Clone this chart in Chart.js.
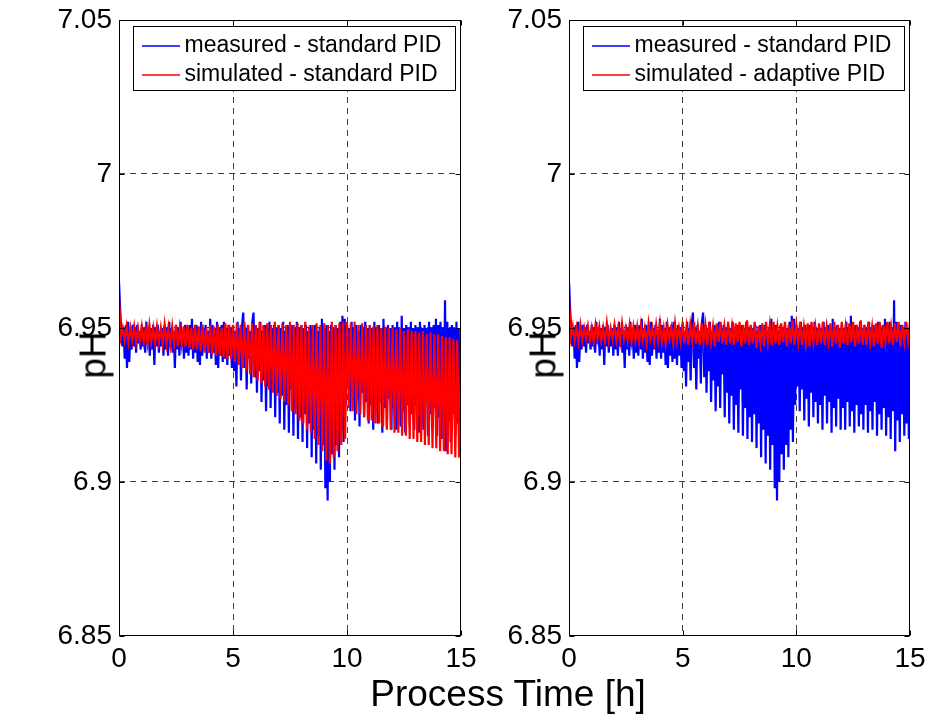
<!DOCTYPE html>
<html>
<head>
<meta charset="utf-8">
<script src="https://cdn.jsdelivr.net/npm/chart.js@4.4.1/dist/chart.umd.min.js"></script>
<style>
  html, body { margin: 0; padding: 0; background: #ffffff; }
  #wrap { position: relative; width: 930px; height: 718px; overflow: hidden;
          font-family: "Liberation Sans", Arial, Helvetica, sans-serif; color: #000; }
  #wrap canvas { position: absolute; left: 0; top: 0; }
  .ytitle { position: absolute; font-size: 37px; line-height: 37px; white-space: nowrap;
            transform: translate(-50%, -50%) rotate(-90deg); }
  #xtitle { position: absolute; left: 508px; top: 675px; font-size: 37px; line-height: 37px;
            white-space: nowrap; transform: translateX(-50%); }
</style>
</head>
<body>
<div id="wrap">
  <canvas id="left" width="930" height="718"></canvas>
  <canvas id="right" width="930" height="718"></canvas>
  <div class="ytitle" style="left:93px; top:355px;">pH</div>
  <div class="ytitle" style="left:543px; top:355px;">pH</div>
  <div id="xtitle">Process Time [h]</div>
</div>
<script>
// ---------------- data ----------------
// sampling interval of each record, in hours
const measuredStepH = 0.05;     // 3 min
const simulatedStepH = 1 / 12;  // 5 min

// measured pH, standard PID (same record shown in both panels)
const pHMeasuredStd = [
  6.965, 6.956, 6.949, 6.944, 6.950, 6.940, 6.951, 6.937, 6.952, 6.939, 6.949, 6.943, 6.951, 6.944, 6.950, 6.942, 6.951, 6.945, 6.949, 6.943,
  6.951, 6.944, 6.950, 6.942, 6.952, 6.945, 6.949, 6.941, 6.950, 6.943, 6.951, 6.938, 6.950, 6.944, 6.951, 6.942, 6.949, 6.944, 6.950, 6.941,
  6.951, 6.943, 6.950, 6.941, 6.952, 6.944, 6.950, 6.942, 6.949, 6.937, 6.951, 6.943, 6.950, 6.941, 6.952, 6.944, 6.949, 6.940, 6.951, 6.942,
  6.950, 6.941, 6.951, 6.943, 6.953, 6.940, 6.950, 6.942, 6.951, 6.939, 6.950, 6.938, 6.952, 6.941, 6.950, 6.943, 6.951, 6.940, 6.949, 6.942,
  6.953, 6.940, 6.951, 6.942, 6.950, 6.938, 6.952, 6.937, 6.950, 6.941, 6.951, 6.939, 6.952, 6.940, 6.950, 6.938, 6.951, 6.941, 6.950, 6.937,
  6.951, 6.936, 6.949, 6.931, 6.952, 6.939, 6.950, 6.933, 6.951, 6.955, 6.937, 6.950, 6.930, 6.951, 6.940, 6.949, 6.932, 6.952, 6.955, 6.934,
  6.951, 6.929, 6.950, 6.936, 6.952, 6.926, 6.949, 6.933, 6.951, 6.923, 6.950, 6.931, 6.952, 6.924, 6.950, 6.935, 6.951, 6.921, 6.950, 6.929,
  6.951, 6.919, 6.950, 6.928, 6.952, 6.917, 6.949, 6.925, 6.951, 6.916, 6.950, 6.930, 6.951, 6.915, 6.950, 6.924, 6.952, 6.914, 6.950, 6.921,
  6.951, 6.913, 6.950, 6.922, 6.951, 6.911, 6.949, 6.919, 6.951, 6.908, 6.950, 6.917, 6.951, 6.906, 6.949, 6.915, 6.950, 6.904, 6.953, 6.912,
  6.950, 6.898, 6.951, 6.894, 6.949, 6.900, 6.951, 6.909, 6.950, 6.904, 6.951, 6.912, 6.950, 6.908, 6.952, 6.917, 6.954, 6.913, 6.953, 6.925,
  6.951, 6.931, 6.950, 6.923, 6.952, 6.930, 6.950, 6.920, 6.951, 6.927, 6.949, 6.918, 6.951, 6.929, 6.950, 6.921, 6.952, 6.926, 6.950, 6.919,
  6.951, 6.925, 6.950, 6.917, 6.952, 6.928, 6.950, 6.919, 6.951, 6.926, 6.950, 6.916, 6.953, 6.924, 6.950, 6.918, 6.951, 6.927, 6.950, 6.917,
  6.951, 6.924, 6.950, 6.917, 6.952, 6.926, 6.950, 6.918, 6.954, 6.923, 6.950, 6.916, 6.951, 6.925, 6.950, 6.918, 6.952, 6.922, 6.950, 6.917,
  6.951, 6.925, 6.950, 6.916, 6.952, 6.923, 6.950, 6.917, 6.951, 6.926, 6.950, 6.915, 6.952, 6.922, 6.950, 6.917, 6.951, 6.924, 6.953, 6.915,
  6.951, 6.921, 6.952, 6.914, 6.950, 6.923, 6.959, 6.910, 6.952, 6.920, 6.950, 6.913, 6.951, 6.922, 6.950, 6.915, 6.952, 6.919, 6.950, 6.914,
  6.922
];

// simulated pH, standard PID (left panel)
const pHSimulatedStd = [
  6.960, 6.947, 6.950, 6.946, 6.9505, 6.9455, 6.950, 6.946, 6.9505, 6.9455, 6.950, 6.946,
  6.9505, 6.9455, 6.950, 6.945, 6.951, 6.9455, 6.950, 6.945, 6.9505, 6.9455, 6.950, 6.945,
  6.951, 6.945, 6.950, 6.9445, 6.9505, 6.945, 6.951, 6.944, 6.950, 6.9445, 6.9505, 6.944,
  6.951, 6.9435, 6.950, 6.943, 6.951, 6.943, 6.9505, 6.9425, 6.951, 6.942, 6.950, 6.942,
  6.951, 6.9415, 6.9505, 6.941, 6.951, 6.941, 6.950, 6.9405, 6.9515, 6.940, 6.951, 6.940,
  6.951, 6.939, 6.9515, 6.938, 6.951, 6.937, 6.952, 6.936, 6.951, 6.935, 6.9515, 6.934,
  6.951, 6.933, 6.952, 6.932, 6.951, 6.931, 6.9515, 6.930, 6.951, 6.929, 6.952, 6.928,
  6.951, 6.927, 6.9515, 6.926, 6.951, 6.925, 6.952, 6.923, 6.951, 6.922, 6.9515, 6.920,
  6.951, 6.919, 6.952, 6.917, 6.9505, 6.916, 6.951, 6.914, 6.9515, 6.912, 6.951, 6.910,
  6.9515, 6.907, 6.951, 6.906, 6.952, 6.908, 6.951, 6.910, 6.9515, 6.912, 6.952, 6.914,
  6.952, 6.924, 6.9515, 6.923, 6.952, 6.922, 6.951, 6.922, 6.9515, 6.921, 6.951, 6.920,
  6.951, 6.920, 6.9505, 6.919, 6.951, 6.919, 6.950, 6.918, 6.9505, 6.917, 6.950, 6.917,
  6.950, 6.916, 6.9495, 6.916, 6.950, 6.915, 6.949, 6.915, 6.9495, 6.914, 6.949, 6.914,
  6.949, 6.913, 6.9485, 6.913, 6.949, 6.912, 6.948, 6.912, 6.9485, 6.911, 6.948, 6.911,
  6.948, 6.910, 6.9475, 6.910, 6.947, 6.909, 6.947, 6.909, 6.9465, 6.908, 6.946, 6.908,
  6.946
];

// simulated pH, adaptive PID (right panel)
const pHSimulatedAdaptive = [
  6.960, 6.947, 6.9505, 6.946, 6.950, 6.9455, 6.951, 6.946, 6.950, 6.9465, 6.9505, 6.946,
  6.950, 6.9455, 6.951, 6.9465, 6.9505, 6.946, 6.950, 6.9455, 6.9515, 6.946, 6.950, 6.9465,
  6.951, 6.946, 6.950, 6.9455, 6.9515, 6.9465, 6.950, 6.946, 6.951, 6.9455, 6.9505, 6.946,
  6.9505, 6.9455, 6.951, 6.946, 6.950, 6.945, 6.9515, 6.9465, 6.950, 6.9455, 6.951, 6.946,
  6.9515, 6.9455, 6.950, 6.945, 6.951, 6.9465, 6.950, 6.945, 6.9515, 6.946, 6.950, 6.9455,
  6.952, 6.945, 6.9505, 6.9445, 6.951, 6.946, 6.952, 6.945, 6.9505, 6.9445, 6.9515, 6.9455,
  6.951, 6.9445, 6.952, 6.9455, 6.9505, 6.944, 6.9515, 6.9455, 6.952, 6.945, 6.9505, 6.9445,
  6.952, 6.945, 6.9505, 6.9445, 6.9515, 6.9455, 6.952, 6.944, 6.951, 6.945, 6.9525, 6.9445,
  6.951, 6.945, 6.952, 6.9435, 6.9505, 6.945, 6.9515, 6.944, 6.952, 6.9455, 6.951, 6.9445,
  6.952, 6.945, 6.9505, 6.9445, 6.9515, 6.9455, 6.952, 6.944, 6.951, 6.945, 6.9525, 6.9445,
  6.951, 6.9455, 6.952, 6.9445, 6.9505, 6.945, 6.9515, 6.944, 6.952, 6.9455, 6.9505, 6.9445,
  6.9515, 6.945, 6.952, 6.9445, 6.9505, 6.9455, 6.9515, 6.944, 6.952, 6.945, 6.951, 6.9435,
  6.952, 6.945, 6.9505, 6.9445, 6.9515, 6.9455, 6.952, 6.944, 6.951, 6.945, 6.9525, 6.9445,
  6.951, 6.9445, 6.952, 6.9455, 6.9505, 6.944, 6.9515, 6.945, 6.952, 6.9435, 6.951, 6.9455,
  6.952, 6.945, 6.9505, 6.9445, 6.9515, 6.9455, 6.952, 6.944, 6.951, 6.9455, 6.952, 6.946,
  6.952
];

// axes
const xTicks = [0, 5, 10, 15];
const xTickLabels = ['0', '5', '10', '15'];
const yTicks = [6.85, 6.9, 6.95, 7.0, 7.05];
const yTickLabels = ['6.85', '6.9', '6.95', '7', '7.05'];

// legend texts
const legendLeft = ['measured - standard PID', 'simulated - standard PID'];
const legendRight = ['measured - standard PID', 'simulated - adaptive PID'];

// ---------------- rendering ----------------
const FONT = '"Liberation Sans", Arial, Helvetica, sans-serif';
Chart.defaults.font.family = FONT;
Chart.defaults.color = '#000';

const BLUE = '#0000ff';
const RED = '#ff0000';
const GRID = 'rgba(0,0,0,0.75)';

function toPoints(values, step) {
  return values.map((v, i) => ({ x: i * step, y: v }));
}

function lineSample(color) {
  const c = document.createElement('canvas');
  c.width = 38; c.height = 4;
  const g = c.getContext('2d');
  g.strokeStyle = color; g.lineWidth = 1.6;
  g.beginPath(); g.moveTo(0, 2); g.lineTo(38, 2); g.stroke();
  return c;
}

const framePlugin = {
  id: 'matlabFrame',
  afterLayout(chart) {
    const ca = chart.chartArea, lg = chart.legend;
    const box = { l: ca.left + 14, r: ca.right - 6, t: ca.top + 6, b: ca.top + 70 };
    chart.$legendBox = box;
    lg.left = box.l + 9; lg.top = box.t + 2.5;
    lg.right = box.r; lg.bottom = box.b + 12;
    lg.width = lg.right - lg.left; lg.height = lg.bottom - lg.top;
  },
  afterDraw(chart) {
    const ctx = chart.ctx, ca = chart.chartArea;
    const xs = chart.scales.x, ys = chart.scales.y;
    ctx.save();
    ctx.strokeStyle = '#000'; ctx.lineWidth = 1;
    const L = Math.round(ca.left) + 0.5, R = Math.round(ca.right) - 0.5;
    const T = Math.round(ca.top) + 0.5, B = Math.round(ca.bottom) - 0.5;
    ctx.strokeRect(L, T, R - L, B - T);
    ctx.beginPath();
    xTicks.forEach(v => {
      const px = Math.round(xs.getPixelForValue(v)) + 0.5;
      ctx.moveTo(px, B); ctx.lineTo(px, B - 5);
      ctx.moveTo(px, T); ctx.lineTo(px, T + 5);
    });
    yTicks.forEach(v => {
      const py = Math.round(ys.getPixelForValue(v)) + 0.5;
      ctx.moveTo(L, py); ctx.lineTo(L + 5, py);
      ctx.moveTo(R, py); ctx.lineTo(R - 5, py);
    });
    ctx.stroke();
    const b = chart.$legendBox;
    ctx.fillStyle = '#fff';
    ctx.fillRect(b.l, b.t, b.r - b.l, b.b - b.t);
    ctx.strokeRect(Math.round(b.l) + 0.5, Math.round(b.t) + 0.5, Math.round(b.r - b.l), Math.round(b.b - b.t));
    ctx.restore();
    chart.legend.draw();
  }
};

function makeChart(id, simValues, labels, padLeft, padRight, yAxisWidth) {
  const datasets = [
    { label: labels[0], data: toPoints(pHMeasuredStd, measuredStepH), borderColor: BLUE, backgroundColor: BLUE,
      borderWidth: 2.2, pointRadius: 0, order: 1 },
    { label: labels[1], data: toPoints(simValues, simulatedStepH), borderColor: RED, backgroundColor: RED,
      borderWidth: 2.2, pointRadius: 0, order: 0 }
  ];
  return new Chart(document.getElementById(id), {
    type: 'line',
    data: { datasets },
    plugins: [framePlugin],
    options: {
      responsive: false,
      devicePixelRatio: 1,
      animation: false,
      events: [],
      layout: { padding: { left: padLeft, right: padRight, top: 20, bottom: 42 } },
      plugins: {
        tooltip: { enabled: false },
        legend: {
          display: true,
          position: 'chartArea',
          align: 'start',
          labels: {
            usePointStyle: true,
            pointStyleWidth: 25,
            padding: 6,
            color: '#000',
            font: { size: 23, family: FONT },
            generateLabels: (chart) => chart.data.datasets.map((ds, i) => ({
              text: ds.label, datasetIndex: i, fillStyle: ds.borderColor, strokeStyle: ds.borderColor,
              lineWidth: 0, hidden: false, pointStyle: lineSample(ds.borderColor), fontColor: '#000'
            }))
          }
        }
      },
      scales: {
        x: {
          type: 'linear', min: 0, max: 15,
          afterBuildTicks: s => { s.ticks = xTicks.map(v => ({ value: v })); },
          afterFit: s => { s.height = 40; s.paddingLeft = 0; s.paddingRight = 0; },
          ticks: { callback: (v, i) => xTickLabels[i], font: { size: 28, family: FONT }, color: '#000',
                   padding: 6, maxRotation: 0, autoSkip: false },
          grid: { drawTicks: false, lineWidth: 1,
                  color: c => (c.index === 0 || c.index === xTicks.length - 1) ? 'rgba(0,0,0,0)' : GRID },
          border: { display: false, dash: [6, 5] }
        },
        y: {
          type: 'linear', min: 6.85, max: 7.05,
          afterBuildTicks: s => { s.ticks = yTicks.map(v => ({ value: v })); },
          afterFit: s => { s.width = yAxisWidth; s.paddingTop = 0; s.paddingBottom = 0; },
          ticks: { callback: (v, i) => yTickLabels[i], font: { size: 28, family: FONT }, color: '#000',
                   padding: 7, autoSkip: false },
          grid: { drawTicks: false, lineWidth: 1,
                  color: c => (c.index === 0 || c.index === yTicks.length - 1) ? 'rgba(0,0,0,0)' : GRID },
          border: { display: false, dash: [6, 5] }
        }
      }
    }
  });
}

makeChart('left', pHSimulatedStd, legendLeft, 0, 469, 119);
makeChart('right', pHSimulatedAdaptive, legendRight, 469, 20, 100);
</script>
</body>
</html>
